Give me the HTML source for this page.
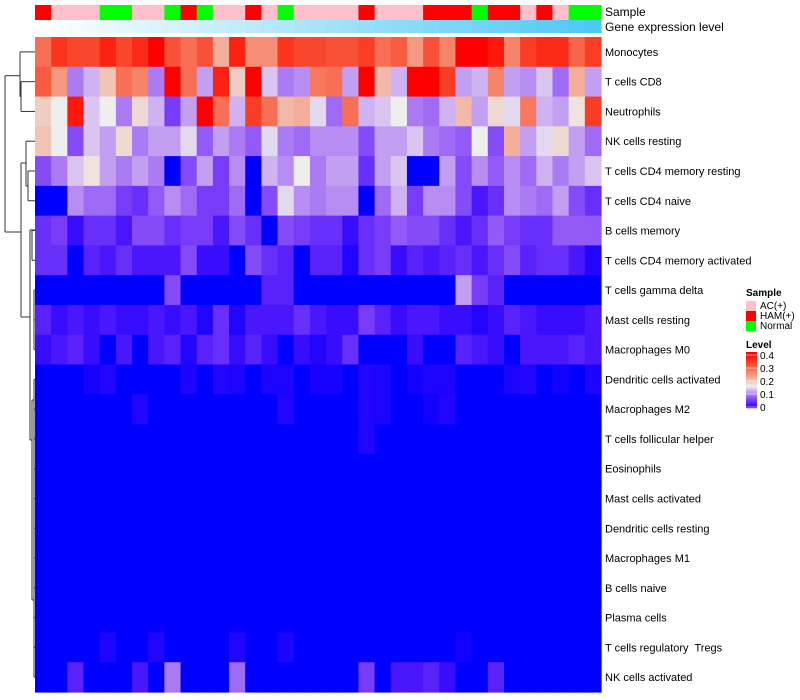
<!DOCTYPE html>
<html><head><meta charset="utf-8"><style>
body{margin:0;background:#fff;width:800px;height:700px;overflow:hidden;font-family:"Liberation Sans",sans-serif;}
svg{display:block}
text{font-family:"Liberation Sans",sans-serif;white-space:pre;}
</style></head><body>
<svg id="chart" width="800" height="700" xmlns="http://www.w3.org/2000/svg">
<g id="dendro" stroke="#333" stroke-width="1" fill="none"></g>
<g id="annot"></g>
<g id="cells"></g>
<g id="labels" font-size="11" fill="#000"></g>
<text x="605" y="16" font-size="12">Sample</text>
<text x="605" y="31" font-size="12">Gene expression level</text>
<g id="legend"></g>
</svg>
<script>
const rowNames=["Monocytes","T cells CD8","Neutrophils","NK cells resting","T cells CD4 memory resting","T cells CD4 naive","B cells memory","T cells CD4 memory activated","T cells gamma delta","Mast cells resting","Macrophages M0","Dendritic cells activated","Macrophages M2","T cells follicular helper","Eosinophils","Mast cells activated","Dendritic cells resting","Macrophages M1","B cells naive","Plasma cells","T cells regulatory  Tregs","NK cells activated"];
const sampleGroups=["R","P","P","P","G","G","P","P","G","R","G","P","P","R","P","G","P","P","P","P","R","P","P","P","R","R","R","G","R","R","P","R","P","G","G"];
const geneLevel=[0,0.03,0.06,0.09,0.12,0.15,0.18,0.21,0.24,0.26,0.29,0.32,0.35,0.38,0.41,0.44,0.47,0.5,0.53,0.56,0.59,0.62,0.65,0.68,0.71,0.74,0.76,0.79,0.82,0.85,0.88,0.91,0.94,0.97,1];
const r0=[0.28,0.34,0.32,0.32,0.36,0.32,0.35,0.4,0.31,0.28,0.31,0.22,0.36,0.25,0.25,0.34,0.32,0.32,0.31,0.31,0.33,0.28,0.3,0.24,0.31,0.26,0.4,0.4,0.37,0.26,0.33,0.35,0.35,0.29,0.33];
const r1=[0.3,0.24,0.1,0.13,0.2,0.28,0.26,0.1,0.4,0.28,0.12,0.36,0.19,0.4,0.14,0.1,0.11,0.27,0.28,0.12,0.4,0.21,0.13,0.4,0.4,0.33,0.12,0.13,0.26,0.12,0.11,0.14,0.09,0.22,0.12];
const r2=[0.19,0.16,0.37,0.14,0.16,0.1,0.18,0.13,0.06,0.12,0.4,0.28,0.13,0.33,0.28,0.21,0.22,0.15,0.09,0.28,0.13,0.14,0.16,0.1,0.09,0.13,0.21,0.12,0.18,0.15,0.27,0.13,0.12,0.17,0.33];
const r3=[0.2,0.16,0.07,0.14,0.12,0.18,0.1,0.12,0.12,0.15,0.08,0.12,0.1,0.08,0.15,0.1,0.09,0.11,0.11,0.11,0.07,0.12,0.12,0.14,0.1,0.09,0.08,0.16,0.07,0.22,0.12,0.15,0.18,0.12,0.09];
const r4=[0.07,0.1,0.14,0.17,0.12,0.1,0.12,0.1,0,0.07,0.12,0.06,0.11,0,0.13,0.11,0.16,0.1,0.12,0.12,0.05,0.12,0.14,0,0,0.12,0.07,0.11,0.08,0.11,0.09,0.13,0.1,0.12,0.14];
const r5=[0,0,0.11,0.09,0.09,0.06,0.05,0.08,0.11,0.09,0.06,0.06,0.09,0,0.07,0.15,0.11,0.1,0.11,0.11,0,0.09,0.13,0.06,0.11,0.11,0.07,0.03,0.05,0.11,0.1,0.09,0.12,0.07,0.05];
const r6=[0.05,0.06,0.02,0.05,0.05,0.03,0.07,0.07,0.05,0.06,0.06,0.03,0.07,0.05,0,0.07,0.06,0.05,0.05,0.02,0.05,0.06,0.08,0.07,0.07,0.05,0.03,0.05,0.08,0.06,0.05,0.05,0.08,0.08,0.08];
const r7=[0.05,0.05,0,0.04,0.03,0.05,0.03,0.03,0.03,0.07,0.02,0.02,0,0.07,0.05,0.04,0,0.04,0.04,0.01,0.05,0.06,0.02,0.04,0.03,0.04,0.05,0.03,0.05,0.07,0.04,0.05,0.05,0.03,0.01];
const r8=[0,0,0,0,0,0,0,0,0.07,0,0,0,0,0,0.04,0.04,0,0,0,0,0,0,0,0,0,0,0.12,0.06,0.04,0,0,0,0,0,0];
const r9=[0.04,0.02,0.03,0.02,0.03,0.02,0.02,0.03,0.02,0.03,0.01,0.05,0.01,0.03,0.03,0.03,0.05,0.03,0.02,0.02,0.06,0.04,0.02,0.03,0.03,0.02,0.02,0.01,0.02,0.04,0.03,0.02,0.02,0.02,0.03];
const r10=[0.02,0.03,0.04,0.02,0,0.03,0,0.03,0.04,0.01,0.04,0.05,0.02,0.04,0.02,0,0.02,0.01,0.02,0.05,0,0,0,0.02,0,0,0.04,0.03,0.02,0,0.03,0.03,0.03,0.04,0.03];
const r11=[0,0,0,0.005,0.01,0,0,0,0,0.008,0,0.01,0.008,0,0.008,0.008,0,0.006,0.006,0,0.01,0.008,0,0.004,0.008,0.008,0,0,0,0.008,0.01,0,0.004,0,0.008];
const r12=[0,0,0,0,0,0,0.01,0,0,0,0,0,0,0,0,0.01,0,0,0,0,0.01,0.008,0,0,0.004,0.01,0,0,0,0,0,0,0,0,0];
const r13=[0,0,0,0,0,0,0,0,0,0,0,0,0,0,0,0,0,0,0,0,0.01,0,0,0,0,0,0,0,0,0,0,0,0,0,0];
const r14=new Array(35).fill(0);
const r15=new Array(35).fill(0);
const r16=new Array(35).fill(0);
const r17=new Array(35).fill(0);
const r18=new Array(35).fill(0);
const r19=new Array(35).fill(0);
const r20=[0,0,0,0,0.008,0,0,0.01,0,0,0,0,0.01,0,0,0.008,0,0,0,0,0,0,0,0,0,0,0.004,0,0,0,0,0,0,0,0];
const r21=[0,0,0.04,0,0,0,0.03,0,0.1,0,0,0,0.09,0,0,0,0,0,0,0,0.06,0,0.03,0.03,0.04,0.02,0,0,0.04,0,0,0,0,0,0];
const values=[r0,r1,r2,r3,r4,r5,r6,r7,r8,r9,r10,r11,r12,r13,r14,r15,r16,r17,r18,r19,r20,r21];
const legendTicks=[0,0.1,0.2,0.3,0.4];

const NS="http://www.w3.org/2000/svg";
const X0=35,X1=601,Y0=37,Y1=692;
const nC=sampleGroups.length,nR=rowNames.length;
const cw=(X1-X0)/nC,rh=(Y1-Y0)/nR;
const xPos=c=>X0+c*cw, yPos=r=>Y0+r*rh;
function mix(a,b,t){return a.map((v,i)=>Math.round(v+(b[i]-v)*t));}
function color(v){
  const mid=0.16,max=0.4;v=Math.max(0,Math.min(max,v));
  let r,g,b;
  if(v<mid){const t=v/mid;r=238*Math.pow(t,0.7);g=238*Math.pow(t,1.4);b=255-17*t;}
  else{const t=(v-mid)/(max-mid);r=238+17*t;g=238*Math.pow(1-t,1.1);b=238*Math.pow(1-t,1.5);}
  return `rgb(${Math.round(r)},${Math.round(g)},${Math.round(b)})`;
}
function el(tag,attrs,parent){const e=document.createElementNS(NS,tag);for(const k in attrs)e.setAttribute(k,attrs[k]);parent.appendChild(e);return e;}
const sampleCol={P:"#FFC0CB",R:"#FF0000",G:"#00FF00"};
const annot=document.getElementById('annot');
sampleGroups.forEach((g,c)=>{
  const e=el('rect',{x:xPos(c),y:5,width:cw+0.6,height:15,fill:sampleCol[g]},annot);
  
  
});
geneLevel.forEach((v,c)=>{
  const col=mix([255,255,255],[78,200,245],v);
  const e=el('rect',{x:xPos(c),y:20,width:cw+0.6,height:13,fill:`rgb(${col})`},annot);
  
  
});
const cells=document.getElementById('cells');
values.forEach((row,r)=>row.forEach((v,c)=>{
  const e=el('rect',{x:xPos(c),y:yPos(r),width:cw+0.6,height:rh+0.6,fill:color(v)},cells);
  
  
}));
const labels=document.getElementById('labels');
rowNames.forEach((n,r)=>{
  const e=el('text',{x:605,y:yPos(r)+rh/2+4},labels);e.textContent=n;
  
  
});
const d=document.getElementById('dendro');
const yc=r=>yPos(r)+rh/2;
const segs=[
 [20,yc(0),35,yc(0)],[21,yc(1),35,yc(1)],[21,yc(2),35,yc(2)],[21,yc(1),21,yc(2)],[20,yc(0),20,(yc(1)+yc(2))/2],[20,(yc(1)+yc(2))/2,21,(yc(1)+yc(2))/2],
 [5,yc(0.8),20,yc(0.8)],[5,yc(0.8),5,232],[5,232,21,232],
 [21,163,21,317],[21,163,26,163],[26,yc(3),26,186],[26,yc(3),35,yc(3)],[26,186,28,186],[28,yc(4),28,yc(5)],[28,yc(4),35,yc(4)],[28,yc(5),35,yc(5)],
 [21,317,30,317],[30,230,30,440],[30,230,35,230],[30,440,32,440],
 [32,yc(6),32,yc(7)],[32,yc(6),35,yc(6)],[32,yc(7),35,yc(7)],
 [32,400,32,600],[32,400,34,400],[34,yc(8),34,yc(10)],[34,yc(8),35,yc(8)],[34,yc(9),35,yc(9)],[34,yc(10),35,yc(10)],
 [32,600,34,600],[34,yc(11),34,yc(21)]
];
segs.forEach(s=>{const e=el('line',{x1:s[0],y1:s[1],x2:s[2],y2:s[3]},d);
  
  });
for(let r=11;r<=21;r++){const e=el('line',{x1:34,y1:yc(r),x2:35,y2:yc(r)},d);
  
  }
const lg=document.getElementById('legend');
let t=el('text',{x:746,y:296,'font-size':10,'font-weight':'bold'},lg);t.textContent='Sample';

[["P","AC(+)"],["R","HAM(+)"],["G","Normal"]].forEach((p,i)=>{
  const b=el('rect',{x:746,y:301+i*10,width:10,height:10,fill:sampleCol[p[0]]},lg);
  
  const tx=el('text',{x:760,y:309+i*10,'font-size':10},lg);tx.textContent=p[1];
  
});
t=el('text',{x:746,y:348,'font-size':10,'font-weight':'bold'},lg);t.textContent='Level';

const by0=352,steps=56;
for(let i=0;i<steps;i++){
  const v=0.4*(1-(i+0.5)/steps)+0.005;
  const r=el('rect',{x:746,y:by0+i,width:11,height:1.2,fill:color(v)},lg);
  
}
legendTicks.forEach(v=>{
  const y=407-(v/0.4)*52;
  const ln=el('line',{x1:746,x2:757,y1:y,y2:y,stroke:'#fff','stroke-width':0.6},lg);
  
  const tx=el('text',{x:760,y:y+4,'font-size':10},lg);tx.textContent=String(v);
  
});
</script>
</body></html>
